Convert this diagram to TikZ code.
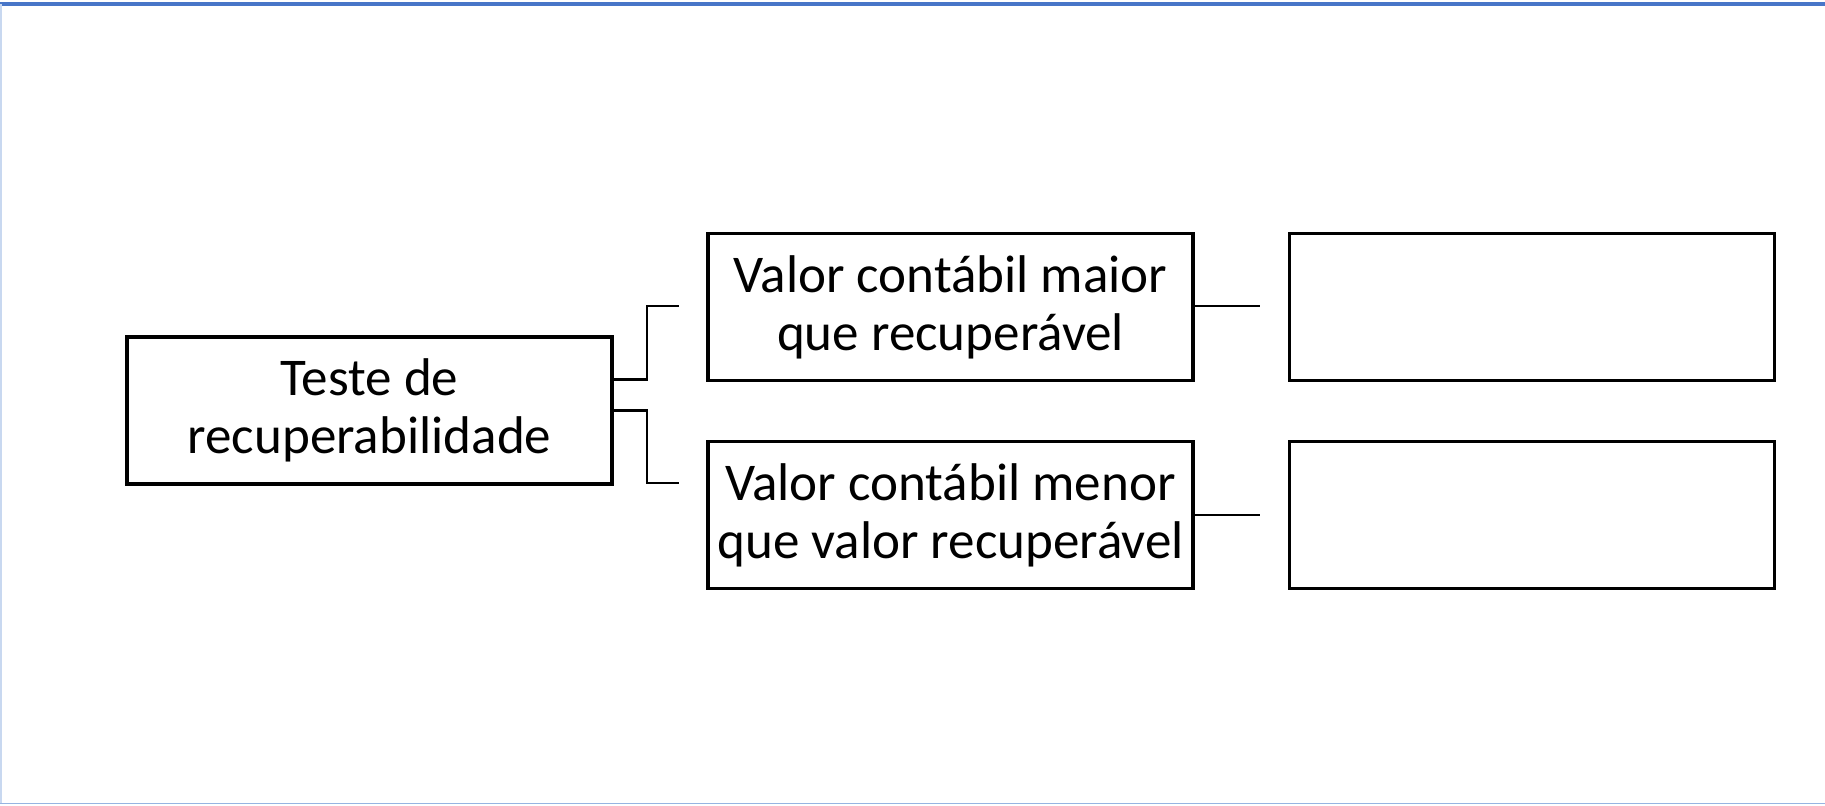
\documentclass[tikz,border=0pt]{standalone}
\usepackage{fontspec}
\setmainfont{Carlito}
\definecolor{frametop}{RGB}{72,118,200}
\definecolor{frameside}{RGB}{200,216,240}
\definecolor{framebottom}{RGB}{150,180,225}
\begin{document}
\begin{tikzpicture}[
  box/.style={draw, line width=1.05pt, minimum width=4.85cm, minimum height=1.47cm,
    inner sep=0pt, align=center, font=\fontsize{15.1}{16.5}\selectfont},
  link/.style={line width=0.65pt}
]
\useasboundingbox (0,0) rectangle (18.25,-8.05);

% page frame
\draw[line width=1pt, frametop] (0,-0.04) -- (18.25,-0.04);
\draw[line width=0.4pt, frameside] (0.01,-0.04) -- (0.01,-8.04);
\draw[line width=0.4pt, framebottom] (0,-8.035) -- (18.25,-8.035);

% boxes
\node[box] (test) at (3.695,-4.105) {Teste de\\recuperabilidade};
\node[box] (maior) at (9.505,-3.07) {Valor contábil maior\\que recuperável};
\node[box] (menor) at (9.505,-5.15) {Valor contábil menor\\que valor recuperável};
\node[box] (resmaior) at (15.32,-3.07) {};
\node[box] (resmenor) at (15.32,-5.15) {};

% open ends of the links
\coordinate (maiorin) at (6.79,-3.06);
\coordinate (menorin) at (6.79,-4.83);
\coordinate (maiorout) at (12.60,-3.06);
\coordinate (menorout) at (12.60,-5.15);

% links
\draw[link] ([yshift=3.1mm]test.east) -- ++(0.33,0) |- (maiorin);
\draw[link] (test.east) -- ++(0.33,0) |- (menorin);
\draw[link] (maior.east |- maiorout) -- (maiorout);
\draw[link] (menor.east) -- (menorout);
\end{tikzpicture}
\end{document}
